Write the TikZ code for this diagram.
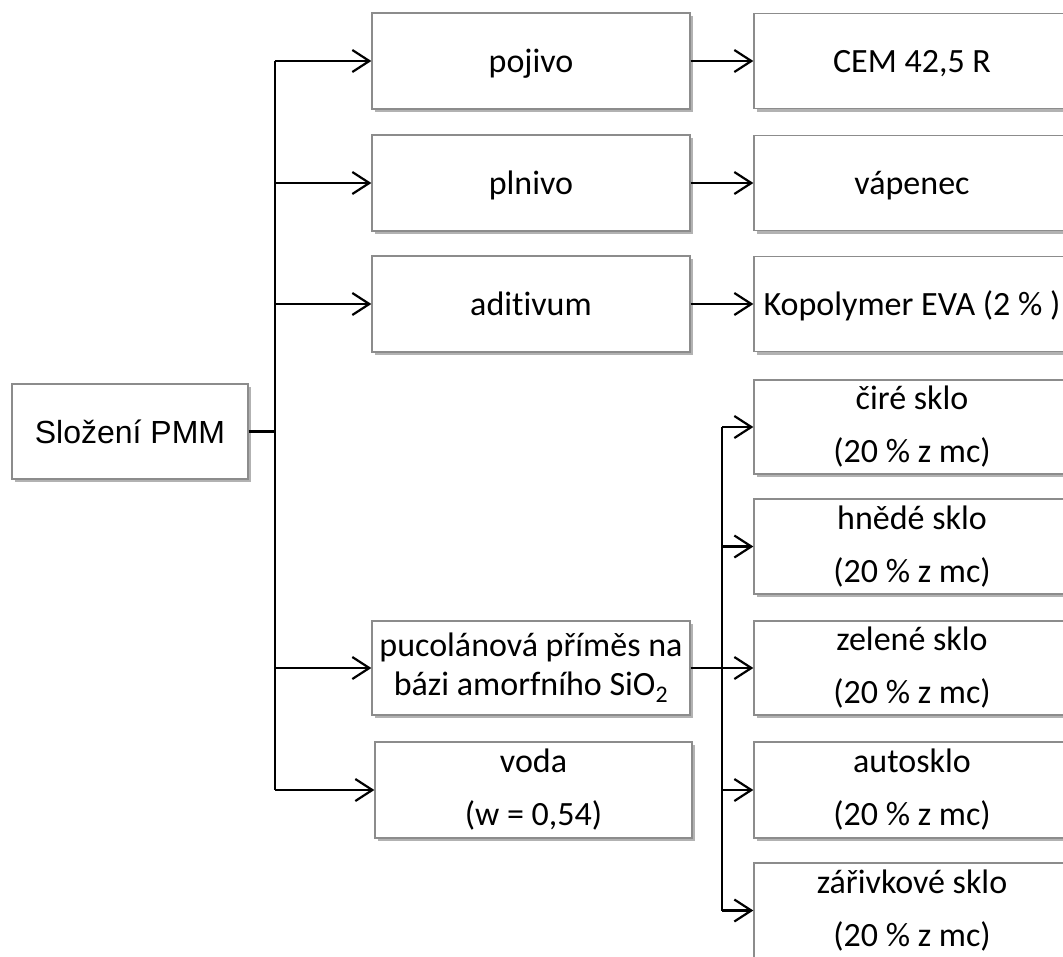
\documentclass[tikz,border=0pt]{standalone}
\usepackage{fontspec}
\setmainfont{Carlito}[Ligatures=NoCommon]
\newfontfamily\arialfont{Liberation Sans}
\usetikzlibrary{arrows.meta,shadows}

\begin{document}
\begin{tikzpicture}[x=1pt,y=-1pt,
  box/.style={draw=black!45, line width=1.3pt, fill=white, inner sep=0pt,
    drop shadow={shadow xshift=2.5pt, shadow yshift=-3pt, opacity=0.3, fill=black}},
  one/.style={box, font=\fontsize{34}{40}\selectfont, text height=22pt, text depth=0pt},
  two/.style={box, font=\fontsize{34}{53}\selectfont, align=center},
  mid/.style={minimum width=318pt, minimum height=96pt},
  rcol/.style={minimum width=316pt, minimum height=95pt},
  conn/.style={line width=2.2pt, draw=black},
  arr/.style={conn, -{Straight Barb[length=17pt,width=22pt]}}
]
\useasboundingbox (0,0) rectangle (1063,956);
\fill[white] (0,0) rectangle (1063,956);
\clip (0,0) rectangle (1063,956);

% left
\node[box, font=\arialfont\fontsize{32}{38}\selectfont, text height=23pt, text depth=0pt,
  minimum width=236pt, minimum height=95pt] (comp) at (130,431.5) {Složení PMM};

% middle column
\node[one,mid] (poj) at (531,61) {pojivo};
\node[one,mid] (pln) at (531,183) {plnivo};
\node[one,mid] (adi) at (531,304) {aditivum};
\node[box,mid,align=center,font=\fontsize{34}{39}\selectfont,minimum height=94pt] (puc) at (531,668)
  {pucolánová příměs na\\bázi amorfního SiO\textsubscript{2}};
\node[two,minimum width=317pt,minimum height=96pt] (vod) at (533.5,790) {voda\\(w = 0,54)};

% right column
\node[one,rcol] (cem) at (912,61) {CEM 42,5 R};
\node[one,rcol] (vap) at (912,183) {vápenec};
\node[one,rcol] (kop) at (912,304) {Kopolymer EVA (2 \% )};
\node[two,rcol,minimum height=94pt] (cir) at (912,427) {čiré sklo\\(20 \% z mc)};
\node[two,rcol] (hne) at (912,546.5) {hnědé sklo\\(20 \% z mc)};
\node[two,rcol,minimum height=94pt] (zel) at (912,668) {zelené sklo\\(20 \% z mc)};
\node[two,rcol,minimum height=96pt] (aut) at (912,790) {autosklo\\(20 \% z mc)};
\node[two,rcol] (zar) at (912,910.5) {zářivkové sklo\\(20 \% z mc)};

% junctions
\coordinate (j0) at (275,431.5);
\coordinate (j1) at (722,668);

% main trunk
\draw[conn] (comp.east) -- (j0);
\draw[conn] (j0 |- poj.west) -- (j0 |- vod.west);
\foreach \n in {poj,pln,adi,puc,vod}
  \draw[arr] (j0 |- \n.west) -- (\n.west);

% middle to right
\draw[arr] (poj.east) -- (cem.west);
\draw[arr] (pln.east) -- (vap.west);
\draw[arr] (adi.east) -- (kop.west);

% glass trunk
\draw[conn] (j1 |- cir.west) -- (j1 |- zar.west);
\draw[arr] (puc.east) -- (zel.west);
\foreach \n in {cir,hne,aut,zar}
  \draw[arr] (j1 |- \n.west) -- (\n.west);
\end{tikzpicture}
\end{document}
